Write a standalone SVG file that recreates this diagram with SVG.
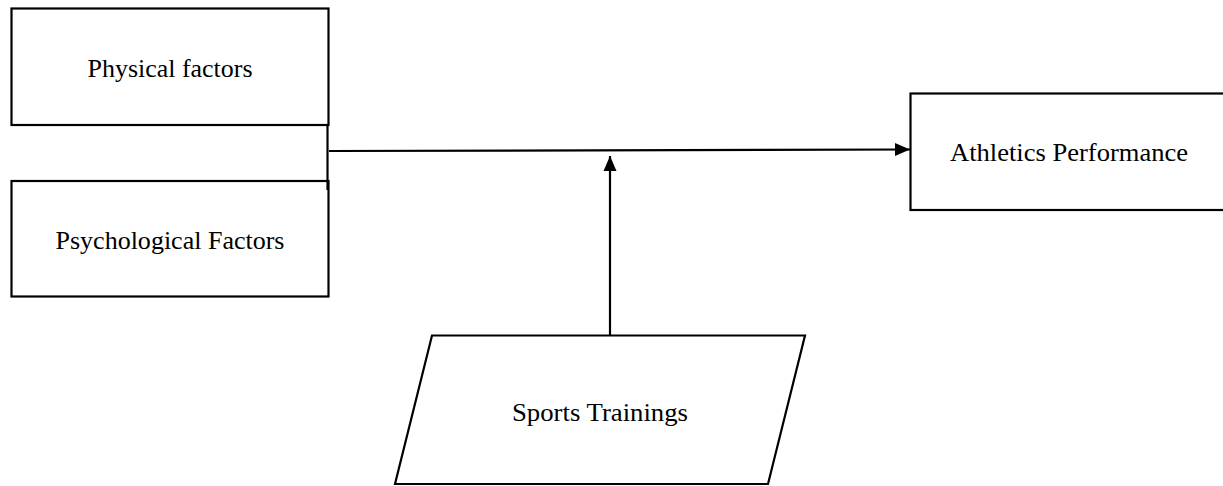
<svg xmlns="http://www.w3.org/2000/svg" width="1223" height="486" viewBox="0 0 1223 486">
<style>
.box{fill:#fff;stroke:#000;stroke-width:2.2}
.lbl{font-family:"Liberation Serif","Times New Roman",serif;font-size:25px;fill:#000;text-anchor:middle}
.conn{fill:none;stroke:#000;stroke-width:2.2}
</style>
<defs>
<marker id="arr" markerUnits="userSpaceOnUse" markerWidth="16" markerHeight="14" refX="15" refY="7" orient="auto">
<path d="M0,0.5 L15,7 L0,13.5 Z" fill="#000"/>
</marker>
</defs>
<rect width="1223" height="486" fill="#fff"/>
<g id="physical">
<rect class="box" x="11.5" y="8.5" width="317" height="116.5"/>
<text class="lbl" x="170" y="77" textLength="165" lengthAdjust="spacingAndGlyphs">Physical factors</text>
</g>
<g id="psychological">
<rect class="box" x="11.5" y="181" width="317" height="115.5"/>
<text class="lbl" x="170" y="249" textLength="229" lengthAdjust="spacingAndGlyphs">Psychological Factors</text>
</g>
<g id="athletics">
<rect class="box" x="910.5" y="93.5" width="315" height="116.5"/>
<text class="lbl" x="1069" y="161" textLength="238" lengthAdjust="spacingAndGlyphs">Athletics Performance</text>
</g>
<g id="sports">
<polygon class="box" points="432,335.5 805,335.5 768,484 395,484"/>
<text class="lbl" x="600" y="421" textLength="176" lengthAdjust="spacingAndGlyphs">Sports Trainings</text>
</g>
<g id="connectors">
<line class="conn" x1="327.5" y1="125" x2="327.5" y2="190"/>
<line class="conn" x1="329" y1="151" x2="910" y2="149.5" marker-end="url(#arr)"/>
<line class="conn" x1="610" y1="335" x2="610" y2="156" marker-end="url(#arr)"/>
</g>
</svg>
